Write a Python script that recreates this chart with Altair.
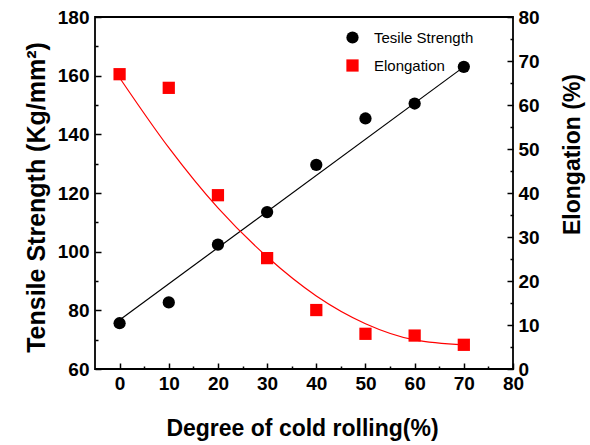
import altair as alt
import pandas as pd

# ---- data ----
degree = [0, 10, 20, 30, 40, 50, 60, 70]
tensile = [75.6, 82.7, 102.4, 113.5, 129.6, 145.4, 150.5, 163.0]
elong = [67.0, 63.9, 39.5, 25.2, 13.4, 8.0, 7.6, 5.5]
elong_fit = [66.2, 50.3, 36.6, 25.5, 16.6, 10.3, 6.6, 5.5]   # fitted curve
fit_degree = [0, 70]                                          # straight fit line ends
tensile_fit = [76.7, 163.0]
series = ["Tesile Strength", "Elongation"]
series_colors = ["black", "red"]
series_shapes = ["circle", "square"]
x_ticks = [0, 5, 10, 15, 20, 25, 30, 35, 40, 45, 50, 55, 60, 65, 70, 75, 80]
left_ticks = [60, 70, 80, 90, 100, 110, 120, 130, 140, 150, 160, 170, 180]
right_ticks = [0, 5, 10, 15, 20, 25, 30, 35, 40, 45, 50, 55, 60, 65, 70, 75, 80]

df = pd.DataFrame({"degree": degree, "tensile": tensile,
                   "elong": elong, "elong_fit": elong_fit})
df_fit = pd.DataFrame({"degree": fit_degree, "tensile_fit": tensile_fit})

FONT = "Liberation Sans"
W, H = 418, 352
PAD = {"left": 95, "top": 17, "right": 77, "bottom": 76}

common_axis = dict(domain=False, grid=False, labelFont=FONT, labelFontWeight="bold",
                   labelFontSize=19, labelColor="black", titleFont=FONT,
                   titleFontWeight="bold", titleColor="black", tickColor="black",
                   tickWidth=1.5, labelOverlap=False, labelFlush=False,
                   titleBaseline="alphabetic", titleAlign="center")

x_axis = alt.Axis(title="Degree of cold rolling(%)", values=x_ticks,
                  labelExpr="datum.value % 10 === 0 ? datum.label : ''",
                  tickSize=alt.ExprRef("datum.value % 10 === 0 ? -6 : -3"),
                  labelPadding=11, titleFontSize=23, titleX=207, titleY=66,
                  **common_axis)
left_axis = alt.Axis(title="Tensile Strength (Kg/mm²)", values=left_ticks, orient="left",
                     labelExpr="datum.value % 20 === 0 ? datum.label : ''",
                     tickSize=alt.ExprRef("datum.value % 20 === 0 ? -6 : -3"),
                     labelPadding=12, titleFontSize=25, titleAngle=270,
                     titleX=-51, titleY=180, **common_axis)
right_axis = alt.Axis(title="Elongation (%)", values=right_ticks, orient="right",
                      labelExpr="datum.value % 10 === 0 ? datum.label : ''",
                      tickSize=alt.ExprRef("datum.value % 10 === 0 ? -6 : -3"),
                      labelPadding=11, titleFontSize=23, titleAngle=270,
                      titleX=66, titleY=137, **common_axis)

x_scale = alt.Scale(domain=[-5, 80], nice=False, zero=False)
left_scale = alt.Scale(domain=[60, 180], nice=False, zero=False)
right_scale = alt.Scale(domain=[0, 80], nice=False, zero=False)

x_enc = alt.X("degree:Q", scale=x_scale, axis=x_axis)

legend = alt.Legend(title=None, orient="none", legendX=250, legendY=13, padding=0,
                    labelFont=FONT, labelFontSize=15, labelColor="black",
                    symbolSize=150, symbolStrokeWidth=0, labelOffset=14,
                    rowPadding=12, symbolOpacity=1)

color_scale = alt.Scale(domain=series, range=series_colors)
shape_scale = alt.Scale(domain=series, range=series_shapes)

base = alt.Chart(df)

ts_line = alt.Chart(df_fit).mark_line(color="black", strokeWidth=1.2).encode(
    x=x_enc, y=alt.Y("tensile_fit:Q", scale=left_scale, axis=left_axis))
ts_pts = base.transform_calculate(series="'" + series[0] + "'").mark_point(
    filled=True, size=150, opacity=1).encode(
    x=x_enc, y=alt.Y("tensile:Q", scale=left_scale, axis=left_axis),
    color=alt.Color("series:N", scale=color_scale, legend=legend),
    shape=alt.Shape("series:N", scale=shape_scale, legend=legend))

el_line = base.mark_line(color="red", strokeWidth=1.2, interpolate="monotone").encode(
    x=x_enc, y=alt.Y("elong_fit:Q", scale=right_scale, axis=right_axis))
el_pts = base.transform_calculate(series="'" + series[1] + "'").mark_point(
    filled=True, size=150, opacity=1).encode(
    x=x_enc, y=alt.Y("elong:Q", scale=right_scale, axis=right_axis),
    color=alt.Color("series:N", scale=color_scale, legend=legend),
    shape=alt.Shape("series:N", scale=shape_scale, legend=legend))

left = alt.layer(ts_line, ts_pts)
right = alt.layer(el_line, el_pts)

chart = alt.layer(left, right).resolve_scale(y="independent").properties(
    width=W, height=H, padding=PAD, autosize=alt.AutoSizeParams(type="none"),
    background="white"
).configure_view(stroke="black", strokeWidth=1.8)

chart.save("out.html", embed_options={"renderer": "svg", "actions": False})
